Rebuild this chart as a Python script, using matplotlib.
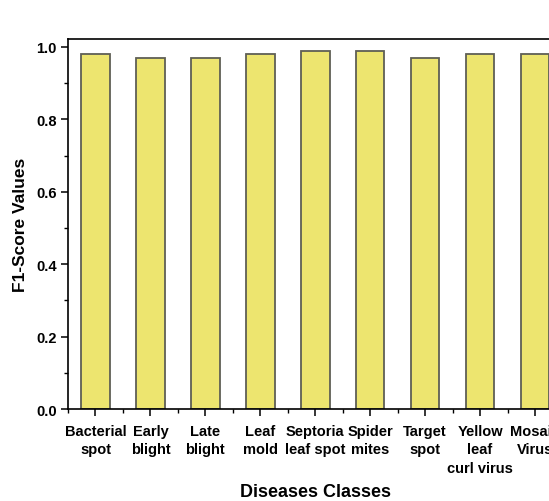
import matplotlib.pyplot as plt
from matplotlib.ticker import MultipleLocator

plt.rcParams['font.family'] = ['Liberation Sans', 'DejaVu Sans']

# Donnees
classes = ["Bacterial\nspot", "Early\nblight", "Late\nblight", "Leaf\nmold",
           "Septoria\nleaf spot", "Spider\nmites", "Target\nspot",
           "Yellow\nleaf\ncurl virus", "Mosaic\nVirus"]
f1_scores = [0.98, 0.97, 0.97, 0.98, 0.99, 0.99, 0.97, 0.98, 0.98]

positions = list(range(1, len(classes) + 1))

fig = plt.figure(figsize=(5.49, 5.02), dpi=100)
ax = fig.add_axes([68 / 549, 1 - 410 / 502, 494.5 / 549, 370 / 502])

ax.bar(positions, f1_scores, width=0.52, color='#ede56f', edgecolor='#5f5f55', linewidth=1.3)

ax.set_xlim(0.5, 9.5)
ax.set_ylim(0, 1.022)
ax.set_xticks(positions)
ax.set_xticklabels(classes, fontsize=10.5, fontweight='bold', linespacing=1.38)
ax.xaxis.set_minor_locator(MultipleLocator(1, offset=0.5))
ax.yaxis.set_major_locator(MultipleLocator(0.2))
ax.yaxis.set_minor_locator(MultipleLocator(0.1))
ax.set_yticklabels([f"{v:.1f}" for v in ax.get_yticks()], fontsize=10.5, fontweight='bold')

ax.tick_params(which='major', direction='out', length=5, width=1.1, pad=3)
ax.tick_params(axis='x', which='major', pad=6)
ax.tick_params(which='minor', direction='out', length=3, width=1.0)
for s in ax.spines.values():
    s.set_linewidth(1.2)

ax.set_xlabel("Diseases Classes", fontsize=13, fontweight='bold')
ax.xaxis.set_label_coords(0.5, -0.2)
ax.set_ylabel("F1-Score Values", fontsize=12.5, fontweight='bold')
ax.yaxis.set_label_coords(-0.08, 0.5)

fig.savefig('out.png', dpi=100)
